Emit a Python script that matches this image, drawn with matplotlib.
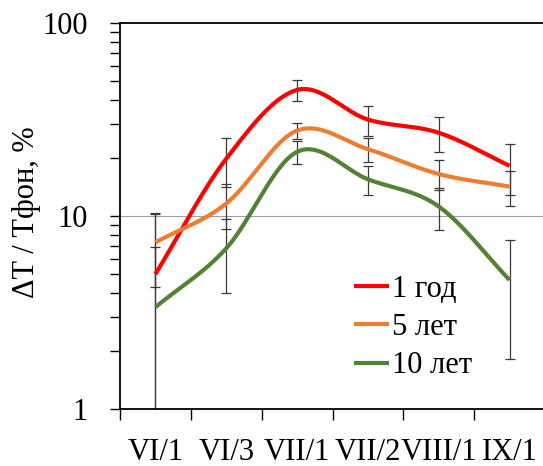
import numpy as np
import matplotlib
matplotlib.use("Agg")
import matplotlib.pyplot as plt
from matplotlib.ticker import FixedLocator, NullFormatter, LogLocator

categories = ["VI/1", "VI/3", "VII/1", "VII/2", "VIII/1", "IX/1"]
series_names = ["1 год", "5 лет", "10 лет"]
red_vals = [5.0, 19.8, 45.0, 31.6, 27.0, 18.2]
red_err = [5.4, 5.6, 5.4, 5.6, 5.5, 5.4]
orange_vals = [7.3, 11.6, 27.7, 22.2, 16.5, 14.2]
orange_err = [3.0, 3.0, 2.7, 3.1, 2.9, 2.9]
green_vals = [3.37, 6.8, 21.5, 15.5, 11.2, 4.66]
green_err = [3.5, 2.8, 2.9, 2.7, 2.7, 2.85]

colors = ["#FF0000", "#ED7D31", "#548235"]
FONT = "Liberation Serif"
FS = 22
plt.rcParams["font.family"] = [FONT, "DejaVu Serif"]


def catmull_rom(xs, ys, n=40):
    xs = np.asarray(xs, float)
    ys = np.asarray(ys, float)
    px = np.concatenate([[2 * xs[0] - xs[1]], xs, [2 * xs[-1] - xs[-2]]])
    py = np.concatenate([[2 * ys[0] - ys[1]], ys, [2 * ys[-1] - ys[-2]]])
    outx, outy = [], []
    for i in range(1, len(px) - 2):
        t = np.linspace(0, 1, n, endpoint=(i == len(px) - 3))
        for arr, out in ((px, outx), (py, outy)):
            p0, p1, p2, p3 = arr[i - 1], arr[i], arr[i + 1], arr[i + 2]
            out.extend(0.5 * ((2 * p1) + (-p0 + p2) * t
                              + (2 * p0 - 5 * p1 + 4 * p2 - p3) * t ** 2
                              + (-p0 + 3 * p1 - 3 * p2 + p3) * t ** 3))
    return np.array(outx), np.array(outy)


fig = plt.figure(figsize=(5.43, 4.66), dpi=100)
ax = fig.add_axes([120 / 543, 57 / 466, 425 / 543, 386 / 466])
ax.set_yscale("log")
ax.set_ylim(1, 100)
ax.set_xlim(0, len(categories))

x = np.arange(len(categories)) + 0.5
for vals, errs, c, name in zip([red_vals, orange_vals, green_vals],
                               [red_err, orange_err, green_err],
                               colors, series_names):
    vals = np.array(vals)
    errs = np.array(errs)
    lower = np.minimum(errs, vals - 1e-3)
    ax.errorbar(x, vals, yerr=[lower, errs], fmt="none", ecolor="#3a3a3a",
                elinewidth=0.9, capsize=3.3, capthick=0.9, zorder=2)
    # smooth in display-proportional space (x units -> px, log10 y -> px)
    sx, sy = catmull_rom(x * 70.7, np.log10(vals) * 193)
    ax.plot(sx / 70.7, 10 ** (sy / 193), color=c, lw=3.0,
            solid_capstyle="butt", label=name, zorder=3)

ax.axhline(10, color="#a0a0a0", lw=0.8, zorder=1)

ax.set_xticks(np.arange(len(categories) + 1))
ax.set_xticklabels([])
ax.set_xticks(x, minor=True)
ax.set_xticklabels(categories, minor=True, fontsize=FS)
ax.tick_params(axis="x", which="major", direction="out", length=8, width=1)
ax.tick_params(axis="x", which="minor", length=0, pad=21)

ax.yaxis.set_major_locator(FixedLocator([1, 10, 100]))
ax.set_yticklabels(["1", "10", "100"], fontsize=FS)
ax.yaxis.set_minor_locator(LogLocator(base=10, subs=np.arange(2, 10)))
ax.yaxis.set_minor_formatter(NullFormatter())
ax.tick_params(axis="y", which="both", direction="out", length=7, width=1, pad=16)

for s in ["left", "bottom", "top"]:
    ax.spines[s].set_linewidth(1.3)
ax.spines["right"].set_visible(False)

ax.set_ylabel("ΔT / Тфон, %", fontsize=FS, va="center")
ax.yaxis.set_label_coords((27 - 120) / 425, (409 - 212) / 386)

leg = ax.legend(loc="upper left", bbox_to_anchor=(234 / 425, (409 - 275) / 386),
                frameon=False, fontsize=FS, handlelength=1.15, handletextpad=0.1,
                labelspacing=0.3, borderpad=0, borderaxespad=0)

fig.savefig("out.png", dpi=100)
